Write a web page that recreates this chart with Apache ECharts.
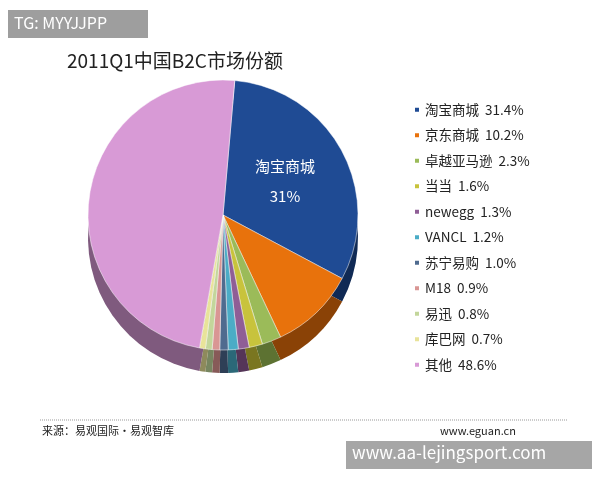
<!DOCTYPE html><html><head><meta charset="utf-8"><script src="https://cdn.jsdelivr.net/npm/echarts@6/dist/echarts.min.js"></script></head><body style="margin:0"><div id="c" style="width:600px;height:480px"></div><script>
const names=['淘宝商城','京东商城','卓越亚马逊','当当','newegg','VANCL','苏宁易购','M18','易迅','库巴网','其他'];
const values=[31.4,10.2,2.3,1.6,1.3,1.2,1.0,0.9,0.8,0.7,48.6];
const colors=['#1f4b94','#e8720c','#9bbb59','#c8c33c','#8f5e96','#4bacc6','#4f6b8f','#d99694','#c3d69b','#e8e39a','#d89ad6'];
const dark=['#102a55','#8a4206','#5d7232','#7a7620','#553558','#2b6878','#2e3f56','#875a58','#778660','#8e8a5c','#7f5a7e'];
const ff='"Noto Sans CJK SC",sans-serif';
const chart=echarts.init(document.getElementById('c'));
chart.setOption({
 animation:false,
 title:{text:'2011Q1中国B2C市场份额',left:62,top:46,textStyle:{fontFamily:ff,fontSize:19,fontWeight:'normal',color:'#222'}},
 legend:{orient:'vertical',left:408,top:98,itemWidth:6,itemHeight:6,itemGap:12,icon:'rect',
  data:names,textStyle:{fontFamily:ff,fontSize:13.5,color:'#222'},
  formatter:n=>n+'  '+values[names.indexOf(n)].toFixed(1)+'%'},
 graphic:[
  {type:'rect',left:8,top:10,shape:{width:140,height:28},style:{fill:'#9e9e9e'}},
  {type:'text',left:14,top:15,style:{text:'TG: MYYJJPP',fill:'#fff',font:'16px '+ff}},
  {type:'line',shape:{x1:40,y1:420,x2:568,y2:420},style:{stroke:'#999',lineDash:[1,1],lineWidth:1}},
  {type:'text',left:42,top:425,style:{text:'来源：易观国际·易观智库',fill:'#222',font:'11px '+ff}},
  {type:'text',left:440,top:425,style:{text:'www.eguan.cn',fill:'#222',font:'11px '+ff}},
  {type:'rect',left:346,top:441,shape:{width:246,height:28},style:{fill:'#a6a6a6'}},
  {type:'text',left:352,top:444,style:{text:'www.aa-lejingsport.com',fill:'#fff',font:'17px '+ff}}
 ],
 series:[
  {type:'pie',silent:true,startAngle:85,center:[223,238],radius:135,label:{show:false},labelLine:{show:false},
   data:names.map((n,i)=>({name:n+' ',value:values[i],itemStyle:{color:dark[i]}})),z:1},
  {type:'pie',startAngle:85,center:[223,215],radius:135,z:2,
   itemStyle:{borderColor:'#fff',borderWidth:0.5},
   label:{show:false},labelLine:{show:false},
   data:names.map((n,i)=>({name:n,value:values[i],itemStyle:{color:colors[i]},
    label:i===0?{show:true,position:'inside',formatter:'淘宝商城\n\n31%',color:'#fff',fontSize:15,fontFamily:ff}:undefined}))}
 ]
});
</script></body></html>
